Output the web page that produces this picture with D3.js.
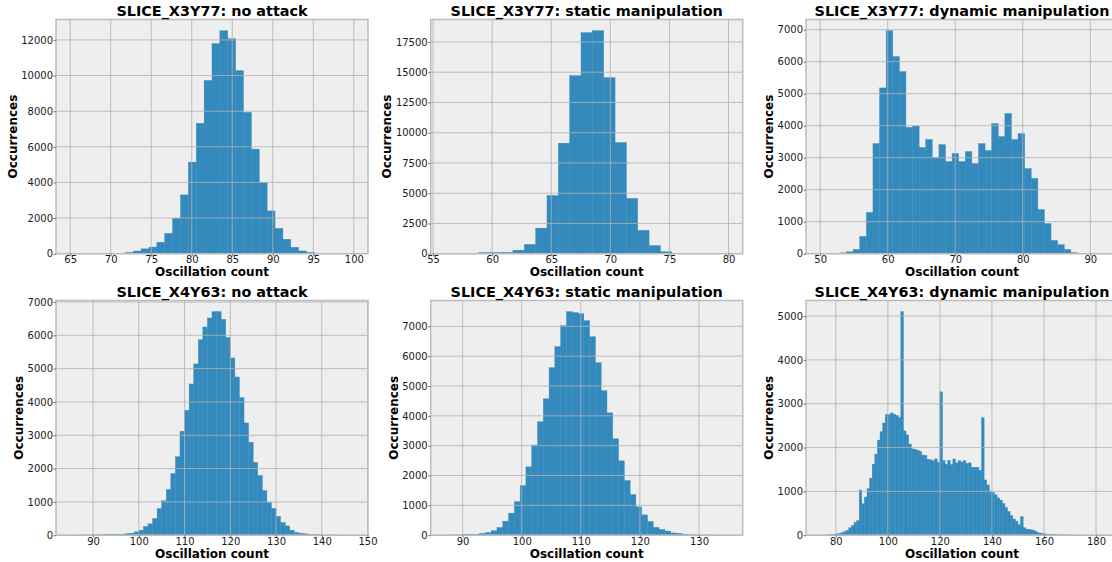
<!DOCTYPE html>
<html>
<head>
<meta charset="utf-8">
<script src="https://cdn.jsdelivr.net/npm/d3@7"></script>
<style>
  body { margin: 0; background: #ffffff; }
  svg text { font-family: "DejaVu Sans", sans-serif; }
</style>
</head>
<body>
<svg id="fig" width="1112" height="562"></svg>
<script>
// ---- data (histogram counts per bin) ----
const titles = [
  "SLICE_X3Y77: no attack", "SLICE_X3Y77: static manipulation", "SLICE_X3Y77: dynamic manipulation",
  "SLICE_X4Y63: no attack", "SLICE_X4Y63: static manipulation", "SLICE_X4Y63: dynamic manipulation"
];

// [min, max] of the oscillation counts; bins split this range evenly
const ranges = [[65, 100], [56, 80], [50, 92], [85, 147], [87, 135], [74, 183]];

const countsX3Y77None = [0, 0, 0, 0, 0, 0, 10, 70, 150, 270, 370, 640, 1140, 1990, 3300, 5140, 7320, 9725,
  11790, 12520, 12070, 10280, 7935, 5870, 4005, 2400, 1420, 810, 360, 155, 70, 20, 5, 2, 1, 1];

const countsX3Y77Static = [1, 2, 5, 100, 100, 110, 290, 765, 2115, 4815, 9135, 14720, 18270, 18435, 14555,
  9190, 4568, 1930, 670, 160, 10, 2, 1, 0, 1];

const countsX3Y77Dynamic = [0, 2, 5, 25, 60, 135, 540, 1290, 3440, 5180, 6970, 6160, 5690, 3950, 3990, 3320,
  3570, 3005, 3410, 2880, 3130, 2880, 3190, 2820, 3440, 3225, 4065, 3660, 4380, 3570, 3755, 2660, 2350,
  1380, 940, 415, 280, 135, 35, 5, 2, 0, 1];

const countsX4Y63None = [1, 2, 3, 5, 8, 10, 15, 18, 20, 22, 28, 30, 45, 60, 100, 150, 260, 340, 500, 800,
  1035, 1370, 1850, 2355, 3120, 3750, 4540, 5140, 5865, 6250, 6520, 6710, 6710, 6480, 5935, 5320, 4750,
  4125, 3370, 2790, 2185, 1790, 1340, 985, 805, 565, 380, 280, 150, 80, 60, 40, 20, 20, 10, 5, 4, 3, 2, 2, 1, 1];

const countsX4Y63Static = [2, 5, 10, 15, 25, 30, 60, 90, 150, 260, 470, 740, 1120, 1660, 2290, 3020, 3800,
  4570, 5610, 6320, 7020, 7490, 7460, 7420, 7190, 6650, 5780, 4840, 4100, 3230, 2490, 1830, 1360, 950, 680,
  460, 260, 195, 140, 75, 60, 35, 15, 8, 5, 3, 2, 1, 1];

const countsX4Y63Dynamic = [
  1, 2, 4, 8, 12, 20, 30, 40, 55, 80,
  110, 170, 220, 290, 330, 1030, 720, 870, 1060, 1300,
  1620, 1850, 2170, 2360, 2560, 2750, 2750, 2790, 2760, 2730,
  2680, 5100, 2380, 2290, 2080, 1970, 1960, 1940, 1910, 1830,
  1820, 1730, 1720, 1700, 1740, 1660, 3270, 1700, 1620, 1710,
  1610, 1740, 1650, 1700, 1670, 1700, 1640, 1650, 1550, 1550,
  1550, 1480, 2680, 1260, 1145, 1005, 975, 920, 850, 800,
  720, 630, 540, 450, 370, 320, 240, 420, 170, 140,
  130, 120, 100, 70, 50, 40, 30, 25, 20, 15,
  10, 8, 6, 15, 5, 3, 2, 2, 1, 1,
  0, 1, 0, 0, 1, 0, 0, 0, 1];

const xTicks = [
  [65, 70, 75, 80, 85, 90, 95, 100], [55, 60, 65, 70, 75, 80], [50, 60, 70, 80, 90],
  [90, 100, 110, 120, 130, 140, 150], [90, 100, 110, 120, 130], [80, 100, 120, 140, 160, 180]
];
const yTicks = [
  [0, 2000, 4000, 6000, 8000, 10000, 12000], [0, 2500, 5000, 7500, 10000, 12500, 15000, 17500],
  [0, 1000, 2000, 3000, 4000, 5000, 6000, 7000], [0, 1000, 2000, 3000, 4000, 5000, 6000, 7000],
  [0, 1000, 2000, 3000, 4000, 5000, 6000, 7000], [0, 1000, 2000, 3000, 4000, 5000]
];

const allCounts = [countsX3Y77None, countsX3Y77Static, countsX3Y77Dynamic,
  countsX4Y63None, countsX4Y63Static, countsX4Y63Dynamic];

// ---- layout ----
const colLeft = [56, 430.7, 806],
  axWidth = 312,
  rowTop = [19.5, 300.5],
  rowBottom = [253.7, 535.2];

const barColor = "#348ABD",
  bgColor = "#eeeeee",
  gridColor = "#b2b2b2",
  frameColor = "#bcbcbc";

const svg = d3.select("#fig");

allCounts.forEach(function (counts, i) {
  const row = Math.floor(i / 3), col = i % 3;
  const left = colLeft[col], top = rowTop[row], bottom = rowBottom[row];
  const w = axWidth, h = bottom - top;
  const lo = ranges[i][0], hi = ranges[i][1];
  const binW = (hi - lo) / counts.length;
  const pad = 0.05 * (hi - lo);

  const bins = counts.map((c, k) => ({ x0: lo + k * binW, x1: lo + (k + 1) * binW, n: c }));

  const x = d3.scaleLinear().domain([lo - pad, hi + pad]).range([0, w]);
  const y = d3.scaleLinear().domain([0, d3.max(counts) * 1.05]).range([h, 0]);

  const g = svg.append("g").attr("transform", "translate(" + left + "," + top + ")");

  // clip so the third column is cut by the page edge like the original
  g.append("rect")
    .attr("width", w).attr("height", h)
    .attr("fill", bgColor);

  g.selectAll("rect.bar")
    .data(bins)
    .enter()
    .append("rect")
    .attr("class", "bar")
    .attr("x", d => x(d.x0))
    .attr("width", d => x(d.x1) - x(d.x0))
    .attr("y", d => y(d.n))
    .attr("height", d => h - y(d.n))
    .attr("fill", barColor)
    .attr("stroke", barColor)
    .attr("stroke-width", 0.4);

  // grid drawn over bars
  g.selectAll("line.vgrid")
    .data(xTicks[i])
    .enter()
    .append("line")
    .attr("x1", d => x(d)).attr("x2", d => x(d))
    .attr("y1", 0).attr("y2", h)
    .attr("stroke", gridColor).attr("stroke-width", 1).attr("opacity", 0.8);

  g.selectAll("line.hgrid")
    .data(yTicks[i])
    .enter()
    .append("line")
    .attr("x1", 0).attr("x2", w)
    .attr("y1", d => y(d)).attr("y2", d => y(d))
    .attr("stroke", gridColor).attr("stroke-width", 1).attr("opacity", 0.8);

  // frame
  g.append("rect")
    .attr("width", w).attr("height", h)
    .attr("fill", "none")
    .attr("stroke", frameColor)
    .attr("stroke-width", 1.5);

  // axes
  const xAxis = g.append("g")
    .attr("transform", "translate(0," + h + ")")
    .call(d3.axisBottom(x).tickValues(xTicks[i]).tickSize(2.5).tickPadding(0.2).tickFormat(d3.format("d")));

  const yAxis = g.append("g")
    .call(d3.axisLeft(y).tickValues(yTicks[i]).tickSize(2.5).tickPadding(0.5).tickFormat(d3.format("d")));

  [xAxis, yAxis].forEach(function (a) {
    a.select(".domain").remove();
    a.selectAll(".tick line").attr("stroke", "#555").attr("stroke-width", 0.8);
    a.selectAll(".tick text")
      .attr("fill", "#1a1a1a")
      .style("font-size", "10px")
      .style("font-family", "DejaVu Sans, sans-serif");
  });

  // title
  g.append("text")
    .attr("x", w / 2)
    .attr("y", -3.3)
    .attr("text-anchor", "middle")
    .style("font-size", "14.4px")
    .style("font-weight", "bold")
    .attr("fill", "#000")
    .text(titles[i]);

  // x label
  g.append("text")
    .attr("x", w / 2)
    .attr("y", h + 22.5)
    .attr("text-anchor", "middle")
    .style("font-size", "12px")
    .style("font-weight", "bold")
    .attr("fill", "#000")
    .text("Oscillation count");

  // y label, placed left of the widest tick label
  const tickBox = yAxis.node().getBBox();
  g.append("text")
    .attr("transform", "translate(" + (tickBox.x - 4.4) + "," + (h / 2) + ") rotate(-90)")
    .attr("text-anchor", "middle")
    .style("font-size", "12px")
    .style("font-weight", "bold")
    .attr("fill", "#000")
    .text("Occurrences");
});
</script>
</body>
</html>
